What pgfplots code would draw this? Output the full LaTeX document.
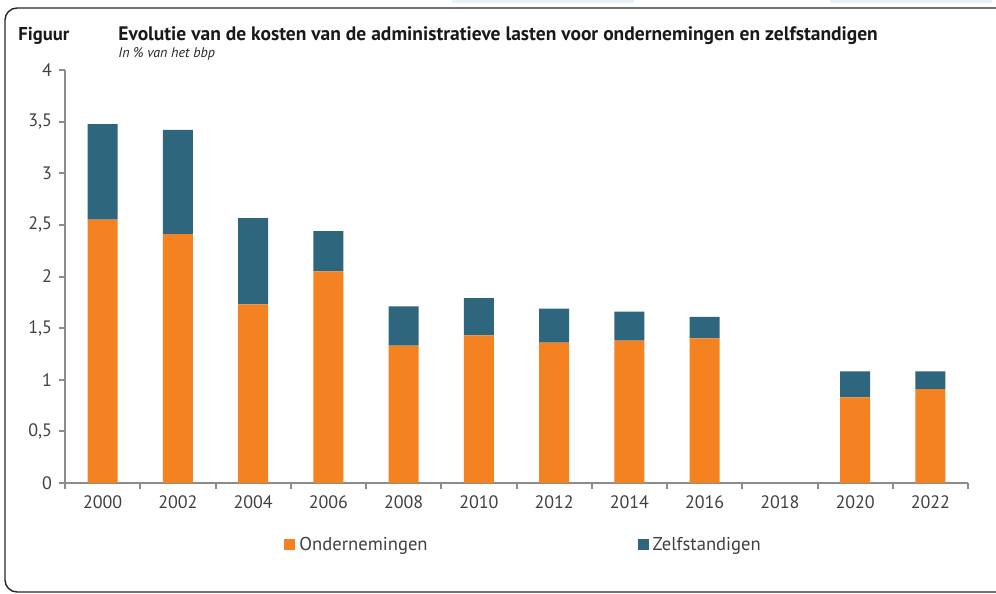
\documentclass[border=0pt]{standalone}
\usepackage{fontspec}
\setmainfont{PT Sans}
\usepackage{pgfplots}
\pgfplotsset{compat=1.18}
\definecolor{oranje}{HTML}{F58220}
\definecolor{petrol}{HTML}{2E667D}
\definecolor{asgrijs}{HTML}{8C8C8C}
\definecolor{tekst}{HTML}{404040}
\definecolor{lichtblauw}{HTML}{E6F1F8}

\begin{document}
\begin{tikzpicture}
\useasboundingbox (0,0) rectangle (498pt,-297pt);
% randje van de schermafdruk
\fill[lichtblauw] (226pt,0) rectangle (317pt,-1.6pt);
\fill[lichtblauw] (415pt,0) rectangle (496pt,-1.6pt);
\draw[line width=0.7pt, black!85, rounded corners=6pt]
  (510pt,-4pt) -- (2.5pt,-4pt) -- (2.5pt,-296pt) -- (510pt,-296pt);

\node[anchor=base west, inner sep=0, text=black!90,
      font=\fontsize{9.3}{11}\selectfont\bfseries] at (9pt,-20pt) {Figuur};
\node[anchor=base west, inner sep=0, text=black!90,
      font=\fontsize{9.75}{11}\selectfont\bfseries] at (59pt,-20pt)
  {Evolutie van de kosten van de administratieve lasten voor ondernemingen en zelfstandigen};
\node[anchor=base west, inner sep=0, text=black!85,
      font=\fontsize{7}{8}\selectfont\itshape] at (59pt,-28.5pt) {In \% van het bbp};

\begin{axis}[
    at={(32.5pt,-241.5pt)}, anchor=south west,
    scale only axis,
    width=451.5pt, height=206.5pt,
    ybar stacked,
    bar width=15pt,
    xmin=-0.5, xmax=11.5,
    ymin=0, ymax=4,
    xtick={0,...,11},
    xticklabels={2000,2002,2004,2006,2008,2010,2012,2014,2016,2018,2020,2022},
    minor xtick={-0.5,0.5,...,11.5},
    major x tick style={draw=none},
    ytick={0,0.5,...,4},
    axis x line*=bottom,
    axis y line*=left,
    axis line style={asgrijs, line width=1.4pt, -},
    tick style={asgrijs, line width=1pt},
    tick align=outside,
    major tick length=3pt,
    minor tick length=3pt,
    ticklabel style={font=\fontsize{9}{10}\selectfont, text=tekst},
    /pgf/number format/use comma,
    /pgf/number format/assume math mode=true,
    legend style={at={(0.509,-0.15)}, anchor=center, draw=none,
                  legend columns=2, font=\fontsize{9.3}{10}\selectfont, text=tekst,
                  /tikz/every even column/.style={column sep=103pt}},
    legend image code/.code={\fill[#1,draw=none] (0pt,-2.75pt) rectangle (5.5pt,2.75pt);},
]
\addplot[fill=oranje, draw=none] coordinates {
    (0,2.55) (1,2.41) (2,1.73) (3,2.05) (4,1.33) (5,1.43)
    (6,1.36) (7,1.38) (8,1.40) (10,0.83) (11,0.91)
};
\addplot[fill=petrol, draw=none] coordinates {
    (0,0.925) (1,1.01) (2,0.835) (3,0.39) (4,0.38) (5,0.36)
    (6,0.33) (7,0.28) (8,0.21) (10,0.25) (11,0.17)
};
\legend{Ondernemingen, Zelfstandigen}
\end{axis}
\end{tikzpicture}
\end{document}
